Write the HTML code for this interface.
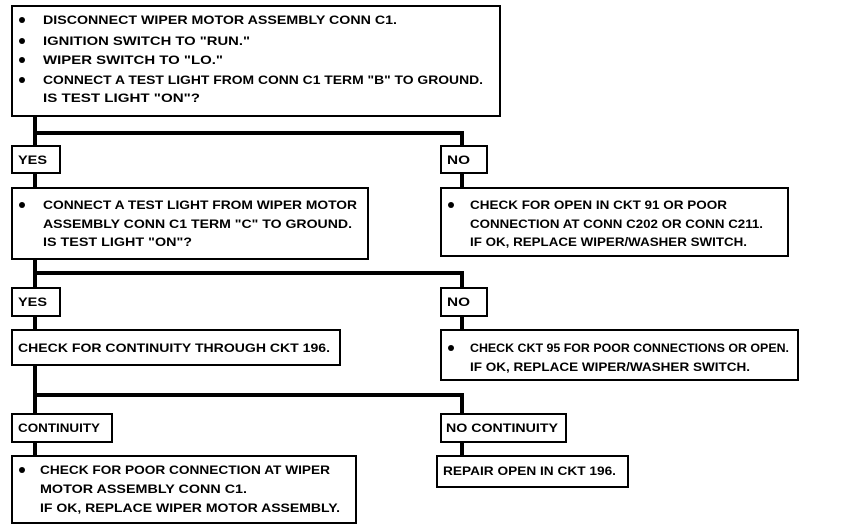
<!DOCTYPE html>
<html><head><meta charset="utf-8"><style>
html,body{margin:0;padding:0;background:#fff;}
svg{display:block;}
text{font-family:"Liberation Sans",sans-serif;font-weight:bold;font-size:11.5px;fill:#000;}
</style></head><body>
<svg width="848" height="530" viewBox="0 0 848 530" xmlns="http://www.w3.org/2000/svg">
<g fill="none" stroke="#000">
<g stroke-width="4">
<path d="M35 116 V188 M33 133 H462 V146 M462 173 V188"/>
<path d="M35 259 V330 M33 273 H462 V288 M462 316 V330"/>
<path d="M35 365 V456 M33 395 H462 V414 M462 442 V456"/>
</g>
</g>
<g fill="#fff" stroke="#000" stroke-width="2">
<rect x="12" y="6" width="488" height="110"/>
<rect x="12" y="146" width="48" height="27"/>
<rect x="441" y="146" width="46" height="27"/>
<rect x="12" y="188" width="356" height="71"/>
<rect x="441" y="188" width="347" height="68"/>
<rect x="12" y="288" width="48" height="28"/>
<rect x="441" y="288" width="46" height="28"/>
<rect x="12" y="330" width="328" height="35"/>
<rect x="441" y="330" width="357" height="50"/>
<rect x="12" y="414" width="100" height="28"/>
<rect x="441" y="414" width="125" height="28"/>
<rect x="12" y="456" width="344" height="67"/>
<rect x="437" y="456" width="191" height="31"/>
</g>
<g fill="#000">
<circle cx="22" cy="20" r="3"/><circle cx="22" cy="41" r="3"/><circle cx="22" cy="60" r="3"/><circle cx="22" cy="80" r="3"/>
<circle cx="22" cy="205" r="3"/><circle cx="451" cy="205" r="3"/><circle cx="451" cy="348" r="3"/><circle cx="22" cy="470" r="3"/>
</g>
<g>
<text x="43" y="24" textLength="354" lengthAdjust="spacingAndGlyphs">DISCONNECT WIPER MOTOR ASSEMBLY CONN C1.</text>
<text x="43" y="45" textLength="207" lengthAdjust="spacingAndGlyphs">IGNITION SWITCH TO "RUN."</text>
<text x="43" y="64" textLength="180" lengthAdjust="spacingAndGlyphs">WIPER SWITCH TO "LO."</text>
<text x="43" y="84" textLength="440" lengthAdjust="spacingAndGlyphs">CONNECT A TEST LIGHT FROM CONN C1 TERM "B" TO GROUND.</text>
<text x="43" y="102" textLength="157" lengthAdjust="spacingAndGlyphs">IS TEST LIGHT "ON"?</text>
<text x="18" y="164" textLength="29" lengthAdjust="spacingAndGlyphs">YES</text>
<text x="447" y="164" textLength="23" lengthAdjust="spacingAndGlyphs">NO</text>
<text x="43" y="209" textLength="314" lengthAdjust="spacingAndGlyphs">CONNECT A TEST LIGHT FROM WIPER MOTOR</text>
<text x="43" y="228" textLength="309" lengthAdjust="spacingAndGlyphs">ASSEMBLY CONN C1 TERM "C" TO GROUND.</text>
<text x="43" y="246" textLength="149" lengthAdjust="spacingAndGlyphs">IS TEST LIGHT "ON"?</text>
<text x="470" y="209" textLength="257" lengthAdjust="spacingAndGlyphs">CHECK FOR OPEN IN CKT 91 OR POOR</text>
<text x="470" y="228" textLength="293" lengthAdjust="spacingAndGlyphs">CONNECTION AT CONN C202 OR CONN C211.</text>
<text x="470" y="246" textLength="277" lengthAdjust="spacingAndGlyphs">IF OK, REPLACE WIPER/WASHER SWITCH.</text>
<text x="18" y="306" textLength="29" lengthAdjust="spacingAndGlyphs">YES</text>
<text x="447" y="306" textLength="23" lengthAdjust="spacingAndGlyphs">NO</text>
<text x="18" y="352" textLength="312" lengthAdjust="spacingAndGlyphs">CHECK FOR CONTINUITY THROUGH CKT 196.</text>
<text x="470" y="352" textLength="319" lengthAdjust="spacingAndGlyphs">CHECK CKT 95 FOR POOR CONNECTIONS OR OPEN.</text>
<text x="470" y="371" textLength="280" lengthAdjust="spacingAndGlyphs">IF OK, REPLACE WIPER/WASHER SWITCH.</text>
<text x="18" y="432" textLength="82" lengthAdjust="spacingAndGlyphs">CONTINUITY</text>
<text x="446" y="432" textLength="112" lengthAdjust="spacingAndGlyphs">NO CONTINUITY</text>
<text x="40" y="474" textLength="290" lengthAdjust="spacingAndGlyphs">CHECK FOR POOR CONNECTION AT WIPER</text>
<text x="40" y="493" textLength="207" lengthAdjust="spacingAndGlyphs">MOTOR ASSEMBLY CONN C1.</text>
<text x="40" y="512" textLength="300" lengthAdjust="spacingAndGlyphs">IF OK, REPLACE WIPER MOTOR ASSEMBLY.</text>
<text x="443" y="475" textLength="173" lengthAdjust="spacingAndGlyphs">REPAIR OPEN IN CKT 196.</text>
</g>
</svg>
</body></html>
